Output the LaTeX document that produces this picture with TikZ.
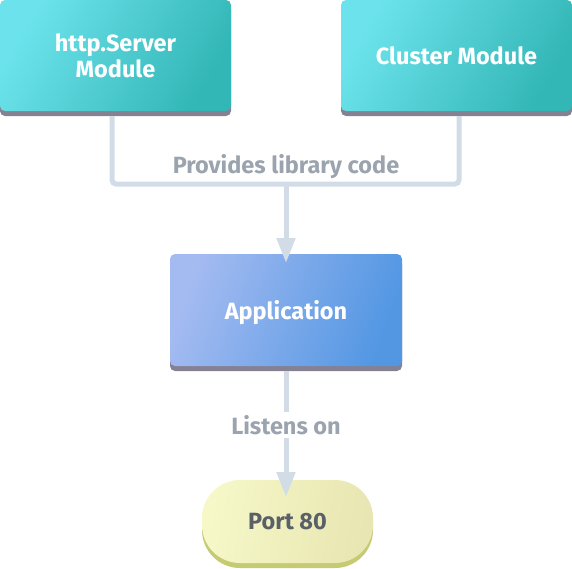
\documentclass[tikz,border=0pt]{standalone}
\usepackage{fontspec}
\setmainfont{Fira Sans}
\usetikzlibrary{arrows.meta,shadows}
\definecolor{tealA}{HTML}{6CE3EC}
\definecolor{tealB}{HTML}{33B6B6}
\definecolor{blueA}{HTML}{A4BBF1}
\definecolor{blueB}{HTML}{5397E3}
\definecolor{yelA}{HTML}{F6F8C8}
\definecolor{yelB}{HTML}{E8E6B2}
\definecolor{shgrey}{HTML}{858092}
\definecolor{sholive}{HTML}{C6CA72}
\definecolor{linec}{HTML}{D2DCE6}
\definecolor{labc}{HTML}{9BA4AE}
\definecolor{darkt}{HTML}{5A6068}
\tikzset{
  boxbase/.style={rounded corners=5pt, align=center, font=\fontsize{23.5}{26}\selectfont\bfseries, text=white, text depth=0pt},
  tealbox/.style={boxbase, top color=tealA, bottom color=tealB, shading angle=60,
    drop shadow={shadow xshift=0pt, shadow yshift=-5pt, fill=shgrey, opacity=1},
    minimum width=231pt, minimum height=111pt},
  bluebox/.style={boxbase, top color=blueA, bottom color=blueB, shading angle=70,
    drop shadow={shadow xshift=0pt, shadow yshift=-5pt, fill=shgrey, opacity=1},
    minimum width=232pt, minimum height=112pt},
  portbox/.style={boxbase, rounded corners=38pt, text=darkt, top color=yelA, bottom color=yelB, shading angle=80,
    drop shadow={shadow xshift=0pt, shadow yshift=-5pt, fill=sholive, opacity=1},
    minimum width=171pt, minimum height=83pt},
  conn/.style={draw=linec, line width=5pt, rounded corners=4pt},
  arr/.style={conn, -{Triangle[length=25pt,width=18pt]}},
  lab/.style={font=\fontsize{23.5}{26}\selectfont\bfseries, text=labc, fill=white, inner sep=3pt}
}
\begin{document}
\begin{tikzpicture}[x=1pt,y=-1pt]
\useasboundingbox (0,0) rectangle (572,568);
\node[tealbox] (http) at (115.5,55.5) {http.Server\\Module};
\node[tealbox] (cluster) at (456.5,55.5) {Cluster Module};
\node[bluebox] (app) at (286,310) {Application};
\node[portbox] (port) at (287.5,521.5) {Port 80};
\coordinate (j) at (286,184);
\coordinate (h1) at (112,116);
\coordinate (c1) at (459,116);
\coordinate (appin) at (286,263);
\coordinate (appout) at (286,371);
\coordinate (portin) at (286,497);
\draw[conn] (h1) |- (j);
\draw[conn] (c1) |- (j);
\draw[arr] (j) -- (appin);
\draw[arr] (appout) -- (portin);
\node[lab] (l2) at (286,425) {Listens on};
\node[lab, fill=none] (l1) at (286,167) {Provides library code};
\end{tikzpicture}
\end{document}
